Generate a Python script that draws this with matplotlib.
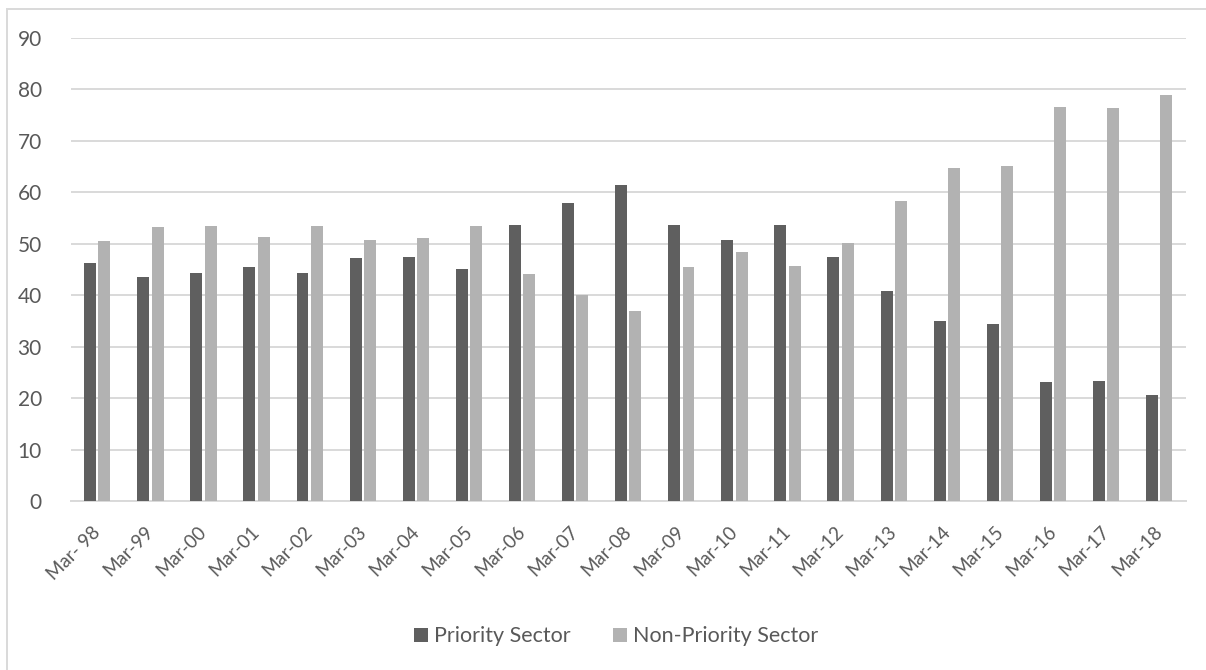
import matplotlib.pyplot as plt
import matplotlib.transforms as mtransforms
import numpy as np
from matplotlib.patches import Rectangle

plt.rcParams['font.family'] = ['Lato', 'DejaVu Sans']

months = ['Mar- 98', 'Mar-99', 'Mar-00', 'Mar-01', 'Mar-02', 'Mar-03', 'Mar-04',
          'Mar-05', 'Mar-06', 'Mar-07', 'Mar-08', 'Mar-09', 'Mar-10', 'Mar-11',
          'Mar-12', 'Mar-13', 'Mar-14', 'Mar-15', 'Mar-16', 'Mar-17', 'Mar-18']
priority = [46.3, 43.6, 44.3, 45.4, 44.4, 47.2, 47.4, 45.1, 53.7, 57.9, 61.4,
            53.7, 50.8, 53.7, 47.4, 40.8, 35.0, 34.5, 23.1, 23.3, 20.7]
non_priority = [50.5, 53.3, 53.5, 51.3, 53.4, 50.7, 51.1, 53.4, 44.1, 40.0, 37.0,
                45.5, 48.4, 45.7, 50.1, 58.3, 64.7, 65.1, 76.6, 76.4, 79.0]

txt = '#595959'
fig = plt.figure(figsize=(12.06, 6.70), dpi=100)
ax = fig.add_axes([71/1206, 1 - 501/670, (1186 - 71)/1206, (501 - 38)/670])

x = np.arange(len(months))
w = 0.225
ax.bar(x - 0.14, priority, w, color='#5f5f5f', label='Priority Sector', zorder=3)
ax.bar(x + 0.13, non_priority, w, color='#b2b2b2', label='Non-Priority Sector', zorder=3)

ax.set_xlim(-0.5, len(months) - 0.5)
ax.set_ylim(0, 90)
ax.set_yticks(range(0, 91, 10))
ax.grid(axis='y', color='#d9d9d9', linewidth=1.4, zorder=0)
for s in ['top', 'right', 'left']:
    ax.spines[s].set_visible(False)
ax.spines['bottom'].set_color('#d9d9d9')
ax.spines['bottom'].set_linewidth(1.4)
ax.tick_params(axis='both', length=0, colors=txt)
ax.tick_params(axis='y', pad=21, labelsize=15)
ax.set_xticks(x)
ax.set_xticklabels(months, rotation=45, ha='right', rotation_mode='anchor', fontsize=13.5)
ax.tick_params(axis='x', pad=16)

# nudge the rotated month labels a little to the left
shift = mtransforms.ScaledTranslation(-6/100, 0, fig.dpi_scale_trans)
for lab in ax.get_xticklabels():
    lab.set_transform(lab.get_transform() + shift)

fig.legend(loc='center', bbox_to_anchor=(0.511, 0.05), ncol=2, frameon=False,
           fontsize=15.5, labelcolor=txt, handlelength=0.65, handleheight=0.65,
           handletextpad=0.25, columnspacing=2.0)

# outer chart frame
fig.patches.append(Rectangle((7/1206, -0.1), 1.2, 1 - 9/670 + 0.1,
                             transform=fig.transFigure, fill=False,
                             edgecolor='#d9d9d9', linewidth=1.4))

fig.savefig('out.png', dpi=100)
